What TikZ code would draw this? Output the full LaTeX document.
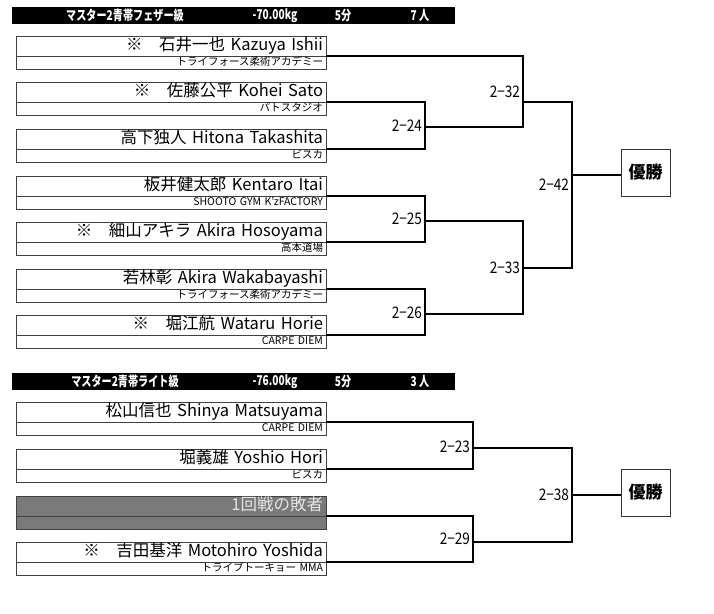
\documentclass[tikz,border=0pt]{standalone}
\usepackage{fontspec}
\setmainfont{Noto Sans CJK JP}
\newfontfamily\hdfont[FakeStretch=0.75]{Noto Sans CJK JP}
\newfontfamily\scfont[FakeStretch=0.85]{Noto Sans CJK JP}
\usetikzlibrary{positioning}

\begin{document}
\begin{tikzpicture}[
  x=1pt, y=-1pt,
  every node/.style={inner sep=0pt, outer sep=0pt},
  hdbar/.style={fill=black, minimum width=443pt, minimum height=17pt, anchor=north west},
  hdtext/.style={text=white, font=\hdfont\fontsize{13.5}{14}\selectfont\bfseries},
  namebox/.style={draw=black!75, line width=0.9pt, anchor=south west,
                  minimum width=310pt, minimum height=20pt, text width=304pt, align=right,
                  font=\fontsize{16.5}{17}\selectfont, text height=12pt, text depth=3pt},
  clubbox/.style={draw=black!75, line width=0.9pt, minimum width=310pt, minimum height=13pt,
                  text width=304pt, align=right,
                  font=\fontsize{10.5}{11}\selectfont, text height=8pt, text depth=2pt},
  lostbox/.style={namebox, fill=black!52, text=black!10},
  bracket/.style={line width=2.3pt},
  feed/.style={line width=1.8pt},
  score/.style={anchor=east, font=\scfont\fontsize{16}{17}\selectfont},
  winbox/.style={draw=black!80, line width=1pt, minimum width=49pt, minimum height=47pt,
                 font=\fontsize{17}{18}\selectfont\bfseries},
]
\useasboundingbox (0,0) rectangle (714,613);

% ---------- feather class ----------
\node[hdbar] (hd1) at (12,7) {};
\node[hdtext] (tt1) at (125,15.5) {マスター2青帯フェザー級};
\node[hdtext] (kg1) at (275,15.5) {-70.00kg};
\node[hdtext] (mn1) at (343,15.5) {5分};
\node[hdtext] (np1) at (420,15.5) {7 人};

\node[namebox] (p1) at (16,56) {※　石井一也 Kazuya Ishii};
\node[clubbox, below=0pt of p1] (c1) {トライフォース柔術アカデミー};
\node[namebox] (p2) at (16,102) {※　佐藤公平 Kohei Sato};
\node[clubbox, below=0pt of p2] (c2) {パトスタジオ};
\node[namebox] (p3) at (16,149) {高下独人 Hitona Takashita};
\node[clubbox, below=0pt of p3] (c3) {ビスカ};
\node[namebox] (p4) at (16,196) {板井健太郎 Kentaro Itai};
\node[clubbox, below=0pt of p4] (c4) {SHOOTO GYM K'zFACTORY};
\node[namebox] (p5) at (16,242) {※　細山アキラ Akira Hosoyama};
\node[clubbox, below=0pt of p5] (c5) {高本道場};
\node[namebox] (p6) at (16,289) {若林彰 Akira Wakabayashi};
\node[clubbox, below=0pt of p6] (c6) {トライフォース柔術アカデミー};
\node[namebox] (p7) at (16,335) {※　堀江航 Wataru Horie};
\node[clubbox, below=0pt of p7] (c7) {CARPE DIEM};

\coordinate (j24) at (425,127);
\coordinate (j25) at (425,221);
\coordinate (j26) at (425,314);
\coordinate (j32) at (523,102);
\coordinate (j33) at (523,268);
\coordinate (j42) at (572,175);

\draw[bracket] (p2.south east) -| (j24) |- (p3.south east);
\draw[bracket] (p4.south east) -| (j25) |- (p5.south east);
\draw[bracket] (p6.south east) -| (j26) |- (p7.south east);
\draw[bracket] (p1.south east) -| (j32) |- (j24);
\draw[bracket] (j25) -| (j33) |- (j26);
\draw[bracket] (j32) -| (j42) |- (j33);

\node[score] (s24) at (422,126) {2−24};
\node[score] (s25) at (422,219) {2−25};
\node[score] (s26) at (422,313) {2−26};
\node[score] (s32) at (520,92) {2−32};
\node[score] (s33) at (520,268) {2−33};
\node[score] (s42) at (569,185) {2−42};

\node[winbox] (win1) at (645.5,172.5) {優勝};
\draw[feed] (j42) -- (j42 -| win1.west);

% ---------- light class ----------
\node[hdbar] (hd2) at (12,373) {};
\node[hdtext] (tt2) at (125,381.5) {マスター2青帯ライト級};
\node[hdtext] (kg2) at (275,381.5) {-76.00kg};
\node[hdtext] (mn2) at (343,381.5) {5分};
\node[hdtext] (np2) at (420,381.5) {3 人};

\node[namebox] (q1) at (16,422) {松山信也 Shinya Matsuyama};
\node[clubbox, below=0pt of q1] (d1) {CARPE DIEM};
\node[namebox] (q2) at (16,469) {堀義雄 Yoshio Hori};
\node[clubbox, below=0pt of q2] (d2) {ビスカ};
\node[lostbox] (q3) at (16,516) {1回戦の敗者};
\node[clubbox, fill=black!52, below=0pt of q3] (d3) {};
\node[namebox] (q4) at (16,562) {※　吉田基洋 Motohiro Yoshida};
\node[clubbox, below=0pt of q4] (d4) {トライブトーキョー MMA};

\coordinate (j23) at (473,448);
\coordinate (j29) at (473,542);
\coordinate (j38) at (572,495);

\draw[bracket] (q1.south east) -| (j23) |- (q2.south east);
\draw[bracket] (q3.south east) -| (j29) |- (q4.south east);
\draw[bracket] (j23) -| (j38) |- (j29);

\node[score] (s23) at (470,447) {2−23};
\node[score] (s29) at (470,539) {2−29};
\node[score] (s38) at (569,495) {2−38};

\node[winbox] (win2) at (645.5,492.5) {優勝};
\draw[feed] (j38) -- (j38 -| win2.west);
\end{tikzpicture}
\end{document}
